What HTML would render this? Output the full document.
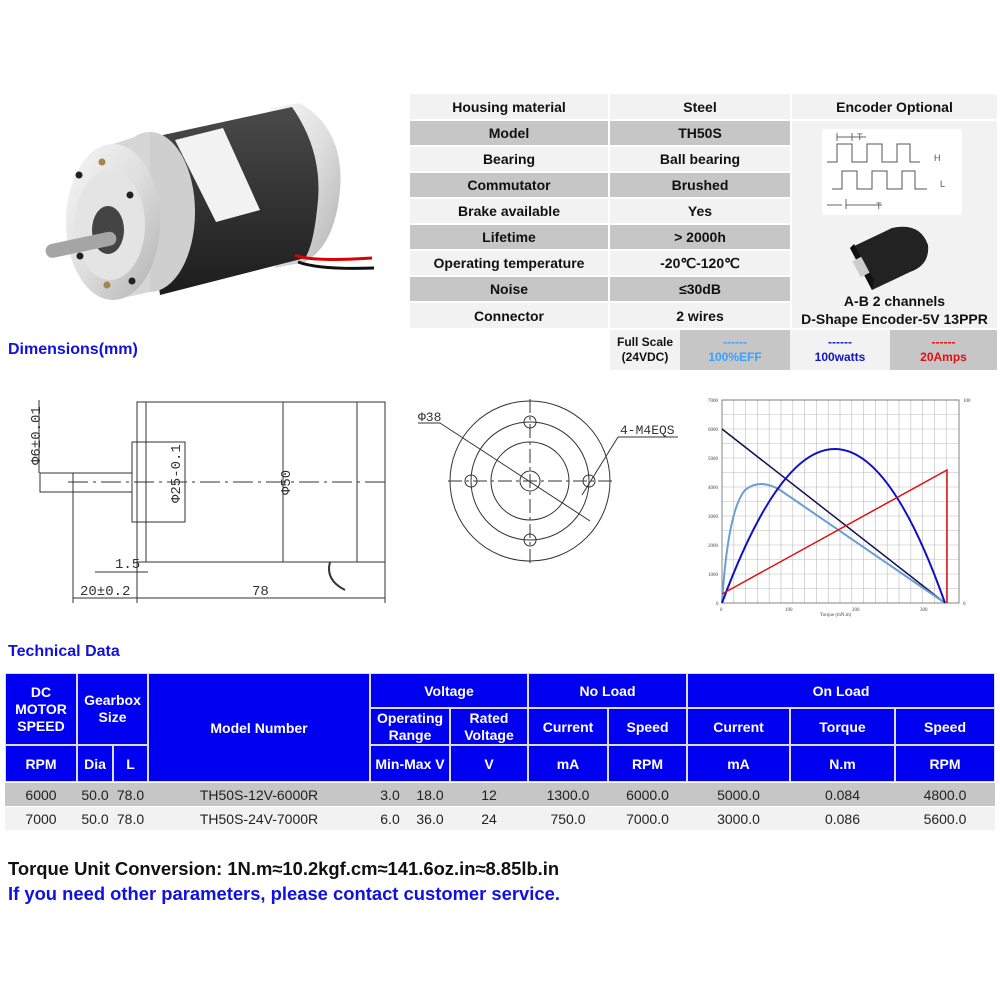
<!DOCTYPE html>
<html><head><meta charset="utf-8">
<style>
body{margin:0;width:1000px;height:1000px;background:#fff;position:relative;overflow:hidden;font-family:"Liberation Sans",Arial,sans-serif;}
.a{position:absolute;}
.c{position:absolute;display:flex;align-items:center;justify-content:center;text-align:center;font-weight:bold;font-size:14px;color:#111;box-sizing:border-box;}
.l{background:#f2f2f2}.g{background:#c6c6c6}
.t{position:absolute;display:flex;align-items:center;justify-content:center;text-align:center;box-sizing:border-box;font-size:14px;}
.h{background:#0000f0;color:#fff;font-weight:bold;border:1px solid #ddd;}
</style></head><body>

<!-- Motor photo -->
<svg class="a" style="left:0;top:0" width="400" height="320">
<defs>
<linearGradient id="bd" x1="0" y1="0" x2="0" y2="1"><stop offset="0" stop-color="#4a4a4a"/><stop offset="0.35" stop-color="#3a3a3a"/><stop offset="1" stop-color="#1c1c1c"/></linearGradient>
<linearGradient id="sv" x1="0" y1="0" x2="1" y2="1"><stop offset="0" stop-color="#f7f7f7"/><stop offset="0.5" stop-color="#dedede"/><stop offset="1" stop-color="#b0b0b0"/></linearGradient>
</defs>
<path d="M270 108 L300 103 Q345 130 340 190 Q335 245 305 262 L275 268 Z" fill="url(#sv)"/>
<path d="M140 140 L292 107 Q322 150 318 200 Q314 245 305 258 L160 295 Z" fill="url(#bd)"/>
<path d="M175 140 L223 128 L260 210 L216 222 Z" fill="#f2f2f2"/>
<ellipse cx="150" cy="212" rx="45" ry="80" fill="#cfcfcf"/>
<path d="M113 144 L150 132 L150 292 L113 300 Z" fill="#d6d6d6"/>
<ellipse cx="113" cy="222" rx="47" ry="78" fill="url(#sv)"/>
<ellipse cx="110" cy="225" rx="35" ry="55" fill="#e4e4e4"/>
<ellipse cx="108" cy="230" rx="16" ry="24" fill="#444"/>
<rect x="45" y="238" width="72" height="14" rx="7" fill="#a5a5a5" transform="rotate(-12 80 245)"/>
<circle cx="79" cy="175" r="3.5" fill="#222"/><circle cx="102" cy="162" r="3.5" fill="#a08850"/><circle cx="130" cy="195" r="3.5" fill="#222"/>
<circle cx="80" cy="256" r="3.5" fill="#222"/><circle cx="107" cy="285" r="3.5" fill="#a08850"/><circle cx="132" cy="281" r="3.5" fill="#222"/>
<path d="M295 255 Q310 262 372 258" stroke="#d00" stroke-width="3" fill="none"/>
<path d="M298 262 Q320 270 374 268" stroke="#111" stroke-width="3" fill="none"/>
</svg>

<!-- Spec table -->
<div class="c l" style="left:410px;top:94px;width:198px;height:25px">Housing material</div>
<div class="c l" style="left:610px;top:94px;width:180px;height:25px">Steel</div>
<div class="c l" style="left:792px;top:94px;width:205px;height:25px">Encoder Optional</div>
<div class="c g" style="left:410px;top:121px;width:198px;height:24px">Model</div>
<div class="c g" style="left:610px;top:121px;width:180px;height:24px">TH50S</div>
<div class="c l" style="left:410px;top:147px;width:198px;height:24px">Bearing</div>
<div class="c l" style="left:610px;top:147px;width:180px;height:24px">Ball bearing</div>
<div class="c g" style="left:410px;top:173px;width:198px;height:24px">Commutator</div>
<div class="c g" style="left:610px;top:173px;width:180px;height:24px">Brushed</div>
<div class="c l" style="left:410px;top:199px;width:198px;height:24px">Brake available</div>
<div class="c l" style="left:610px;top:199px;width:180px;height:24px">Yes</div>
<div class="c g" style="left:410px;top:225px;width:198px;height:24px">Lifetime</div>
<div class="c g" style="left:610px;top:225px;width:180px;height:24px">&gt; 2000h</div>
<div class="c l" style="left:410px;top:251px;width:198px;height:24px">Operating temperature</div>
<div class="c l" style="left:610px;top:251px;width:180px;height:24px">-20℃-120℃</div>
<div class="c g" style="left:410px;top:277px;width:198px;height:24px">Noise</div>
<div class="c g" style="left:610px;top:277px;width:180px;height:24px">≤30dB</div>
<div class="c l" style="left:410px;top:303px;width:198px;height:25px">Connector</div>
<div class="c l" style="left:610px;top:303px;width:180px;height:25px">2 wires</div>
<div class="a l" style="left:792px;top:121px;width:205px;height:207px"></div>
<svg class="a" style="left:822px;top:129px" width="140" height="86">
<rect width="140" height="86" fill="#fff"/>
<path d="M5 33 H15 V15 H30 V33 H45 V15 H60 V33 H75 V15 H88 V33 H98" stroke="#555" fill="none"/>
<path d="M10 60 H20 V42 H35 V60 H50 V42 H65 V60 H80 V42 H93 V60 H105" stroke="#555" fill="none"/>
<path d="M15 12 V4 M30 12 V4 M15 8 H44" stroke="#666" fill="none"/>
<text x="35" y="11" font-size="9" fill="#555">T</text>
<text x="112" y="32" font-size="9" fill="#555">H</text>
<text x="118" y="58" font-size="9" fill="#555">L</text>
<path d="M5 76 H20 M24 76 H60 M24 70 V80" stroke="#666"/>
<text x="54" y="80" font-size="9" fill="#555">T</text>
</svg>
<svg class="a" style="left:840px;top:220px" width="95" height="75">
<path d="M10 28 L52 8 Q80 2 88 25 Q90 45 70 52 L32 70 Z" fill="#222"/>
<path d="M10 28 L32 70 L34 60 L14 24 Z" fill="#111"/>
<rect x="16" y="38" width="10" height="18" fill="#ccc" transform="rotate(-28 21 47)"/>
</svg>
<div class="c" style="left:792px;top:292px;width:205px;height:18px">A-B 2 channels</div>
<div class="c" style="left:792px;top:310px;width:205px;height:18px">D-Shape Encoder-5V 13PPR</div>

<div class="c l" style="left:610px;top:330px;width:70px;height:40px;font-size:12px;line-height:15px">Full Scale<br>(24VDC)</div>
<div class="c g" style="left:680px;top:330px;width:110px;height:40px;font-size:12px;line-height:15px;color:#3aa0ff">------<br>100%EFF</div>
<div class="c l" style="left:790px;top:330px;width:100px;height:40px;font-size:12px;line-height:15px;color:#1515c0">------<br>100watts</div>
<div class="c g" style="left:890px;top:330px;width:107px;height:40px;font-size:12px;line-height:15px;color:#e01010">------<br>20Amps</div>

<div class="a" style="left:8px;top:341px;font-size:16px;font-weight:bold;color:#1010e0">Dimensions(mm)</div>

<!-- Side view drawing -->
<svg class="a" style="left:0;top:385px" width="400" height="230" font-family="Liberation Mono,monospace" fill="none" stroke="#333" stroke-width="1">
<rect x="137" y="17" width="248" height="160"/>
<line x1="146" y1="17" x2="146" y2="177"/><line x1="357" y1="17" x2="357" y2="177"/>
<rect x="132" y="57" width="53" height="80"/>
<rect x="40" y="88" width="92" height="19"/>
<line x1="73" y1="88" x2="73" y2="107"/>
<line x1="68" y1="97" x2="385" y2="97" stroke-dasharray="20,5,3,5"/>
<line x1="39" y1="15" x2="39" y2="88"/>
<line x1="185" y1="57" x2="185" y2="137"/>
<line x1="283" y1="17" x2="283" y2="177"/>
<line x1="73" y1="107" x2="73" y2="218"/><line x1="137" y1="177" x2="137" y2="218"/><line x1="385" y1="177" x2="385" y2="218"/>
<line x1="73" y1="213" x2="385" y2="213"/>
<line x1="95" y1="187" x2="148" y2="187"/>
<path d="M330 177 Q325 195 345 205" stroke-width="2"/>
<g stroke="none" fill="#333" font-size="14">
<text x="115" y="183">1.5</text>
<text x="80" y="210">20±0.2</text>
<text x="252" y="210">78</text>
<text transform="translate(40,80) rotate(-90)">Φ6±0.01</text>
<text transform="translate(180,118) rotate(-90)">Φ25-0.1</text>
<text transform="translate(290,110) rotate(-90)">Φ50</text>
</g>
</svg>

<!-- Front view -->
<svg class="a" style="left:400px;top:385px" width="290" height="200" fill="none" stroke="#333" stroke-width="1" font-family="Liberation Mono,monospace">
<circle cx="130" cy="96" r="80"/><circle cx="130" cy="96" r="59"/><circle cx="130" cy="96" r="39"/><circle cx="130" cy="96" r="10"/>
<circle cx="130" cy="37" r="6"/><circle cx="130" cy="155" r="6"/><circle cx="71" cy="96" r="6"/><circle cx="189" cy="96" r="6"/>
<line x1="130" y1="14" x2="130" y2="178" stroke-dasharray="14,4,3,4"/>
<line x1="48" y1="96" x2="212" y2="96" stroke-dasharray="14,4,3,4"/>
<line x1="18" y1="38" x2="40" y2="38"/><line x1="40" y1="38" x2="190" y2="136"/>
<line x1="218" y1="52" x2="278" y2="52"/><line x1="218" y1="52" x2="182" y2="110"/>
<g stroke="none" fill="#333" font-size="13"><text x="18" y="36">Φ38</text><text x="220" y="49">4-M4EQS</text></g>
</svg>

<!-- Chart -->
<svg class="a" style="left:700px;top:390px" width="280" height="230" font-family="Liberation Serif,serif">
<g stroke="#bbb" stroke-width="0.6">
<path d="M22 10H259M22 24.5H259M22 39H259M22 53.5H259M22 68H259M22 82.5H259M22 97H259M22 111.5H259M22 126H259M22 140.5H259M22 155H259M22 169.5H259M22 184H259M22 198.5H259"/>
<path d="M33.8 10V213M45.6 10V213M57.4 10V213M69.2 10V213M81 10V213M92.8 10V213M104.6 10V213M116.4 10V213M128.2 10V213M140 10V213M151.8 10V213M163.6 10V213M175.4 10V213M187.2 10V213M199 10V213M210.8 10V213M222.6 10V213M234.4 10V213M246.2 10V213"/>
</g>
<rect x="22" y="10" width="237" height="203" fill="none" stroke="#666" stroke-width="0.8"/>
<path d="M22 39 L245 213" stroke="#101050" stroke-width="1.5" fill="none"/>
<path d="M22 213 Q28 120 45 100 Q60 88 80 100 L245 213" stroke="#6a9ed0" stroke-width="2" fill="none"/>
<path d="M22 213 Q136 -95 245 213" stroke="#1010c0" stroke-width="2" fill="none"/>
<path d="M22 204 L247 80 L247 213" stroke="#e01010" stroke-width="1.5" fill="none"/>
<g font-size="5" fill="#444"><text x="8" y="12">7000</text><text x="8" y="41">6000</text><text x="8" y="70">5000</text><text x="8" y="99">4000</text><text x="8" y="128">3000</text><text x="8" y="157">2000</text><text x="8" y="186">1000</text><text x="16" y="215">0</text>
<text x="20" y="221">0</text><text x="85" y="221">100</text><text x="152" y="221">200</text><text x="220" y="221">300</text><text x="120" y="226">Torque (mN.m)</text>
<text x="263" y="12">100</text><text x="263" y="215">0</text></g>
</svg>

<div class="a" style="left:8px;top:643px;font-size:16px;font-weight:bold;color:#1010e0">Technical Data</div>

<!-- Tech table -->
<div class="t h" style="left:5px;top:673px;width:72px;height:72px;line-height:17px">DC<br>MOTOR<br>SPEED</div>
<div class="t h" style="left:77px;top:673px;width:71px;height:72px;line-height:17px;align-items:flex-start;padding-top:18px">Gearbox<br>Size</div>
<div class="t h" style="left:148px;top:673px;width:222px;height:109px">Model Number</div>
<div class="t h" style="left:370px;top:673px;width:158px;height:35px">Voltage</div>
<div class="t h" style="left:528px;top:673px;width:159px;height:35px">No Load</div>
<div class="t h" style="left:687px;top:673px;width:308px;height:35px">On Load</div>
<div class="t h" style="left:370px;top:708px;width:80px;height:37px;line-height:17px">Operating<br>Range</div>
<div class="t h" style="left:450px;top:708px;width:78px;height:37px;line-height:17px">Rated<br>Voltage</div>
<div class="t h" style="left:528px;top:708px;width:80px;height:37px">Current</div>
<div class="t h" style="left:608px;top:708px;width:79px;height:37px">Speed</div>
<div class="t h" style="left:687px;top:708px;width:103px;height:37px">Current</div>
<div class="t h" style="left:790px;top:708px;width:105px;height:37px">Torque</div>
<div class="t h" style="left:895px;top:708px;width:100px;height:37px">Speed</div>
<div class="t h" style="left:5px;top:745px;width:72px;height:37px">RPM</div>
<div class="t h" style="left:77px;top:745px;width:36px;height:37px">Dia</div>
<div class="t h" style="left:113px;top:745px;width:35px;height:37px">L</div>
<div class="t h" style="left:370px;top:745px;width:80px;height:37px">Min-Max V</div>
<div class="t h" style="left:450px;top:745px;width:78px;height:37px">V</div>
<div class="t h" style="left:528px;top:745px;width:80px;height:37px">mA</div>
<div class="t h" style="left:608px;top:745px;width:79px;height:37px">RPM</div>
<div class="t h" style="left:687px;top:745px;width:103px;height:37px">mA</div>
<div class="t h" style="left:790px;top:745px;width:105px;height:37px">N.m</div>
<div class="t h" style="left:895px;top:745px;width:100px;height:37px">RPM</div>

<div class="a" style="left:5px;top:783px;width:990px;height:23px;background:#c6c6c6"></div>
<div class="a" style="left:5px;top:807px;width:990px;height:23px;background:#f2f2f2"></div>
<div style="font-size:13px;color:#222">
<div class="t" style="left:5px;top:783px;width:72px;height:23px">6000</div>
<div class="t" style="left:77px;top:783px;width:36px;height:23px">50.0</div>
<div class="t" style="left:113px;top:783px;width:35px;height:23px">78.0</div>
<div class="t" style="left:148px;top:783px;width:222px;height:23px">TH50S-12V-6000R</div>
<div class="t" style="left:370px;top:783px;width:40px;height:23px">3.0</div>
<div class="t" style="left:410px;top:783px;width:40px;height:23px">18.0</div>
<div class="t" style="left:450px;top:783px;width:78px;height:23px">12</div>
<div class="t" style="left:528px;top:783px;width:80px;height:23px">1300.0</div>
<div class="t" style="left:608px;top:783px;width:79px;height:23px">6000.0</div>
<div class="t" style="left:687px;top:783px;width:103px;height:23px">5000.0</div>
<div class="t" style="left:790px;top:783px;width:105px;height:23px">0.084</div>
<div class="t" style="left:895px;top:783px;width:100px;height:23px">4800.0</div>
<div class="t" style="left:5px;top:807px;width:72px;height:23px">7000</div>
<div class="t" style="left:77px;top:807px;width:36px;height:23px">50.0</div>
<div class="t" style="left:113px;top:807px;width:35px;height:23px">78.0</div>
<div class="t" style="left:148px;top:807px;width:222px;height:23px">TH50S-24V-7000R</div>
<div class="t" style="left:370px;top:807px;width:40px;height:23px">6.0</div>
<div class="t" style="left:410px;top:807px;width:40px;height:23px">36.0</div>
<div class="t" style="left:450px;top:807px;width:78px;height:23px">24</div>
<div class="t" style="left:528px;top:807px;width:80px;height:23px">750.0</div>
<div class="t" style="left:608px;top:807px;width:79px;height:23px">7000.0</div>
<div class="t" style="left:687px;top:807px;width:103px;height:23px">3000.0</div>
<div class="t" style="left:790px;top:807px;width:105px;height:23px">0.086</div>
<div class="t" style="left:895px;top:807px;width:100px;height:23px">5600.0</div>
</div>

<div class="a" style="left:8px;top:858px;font-size:18.4px;font-weight:bold;color:#111">Torque Unit Conversion: 1N.m≈10.2kgf.cm≈141.6oz.in≈8.85lb.in</div>
<div class="a" style="left:8px;top:883px;font-size:18.4px;font-weight:bold;color:#1010e0">If you need other parameters, please contact customer service.</div>
</body></html>
